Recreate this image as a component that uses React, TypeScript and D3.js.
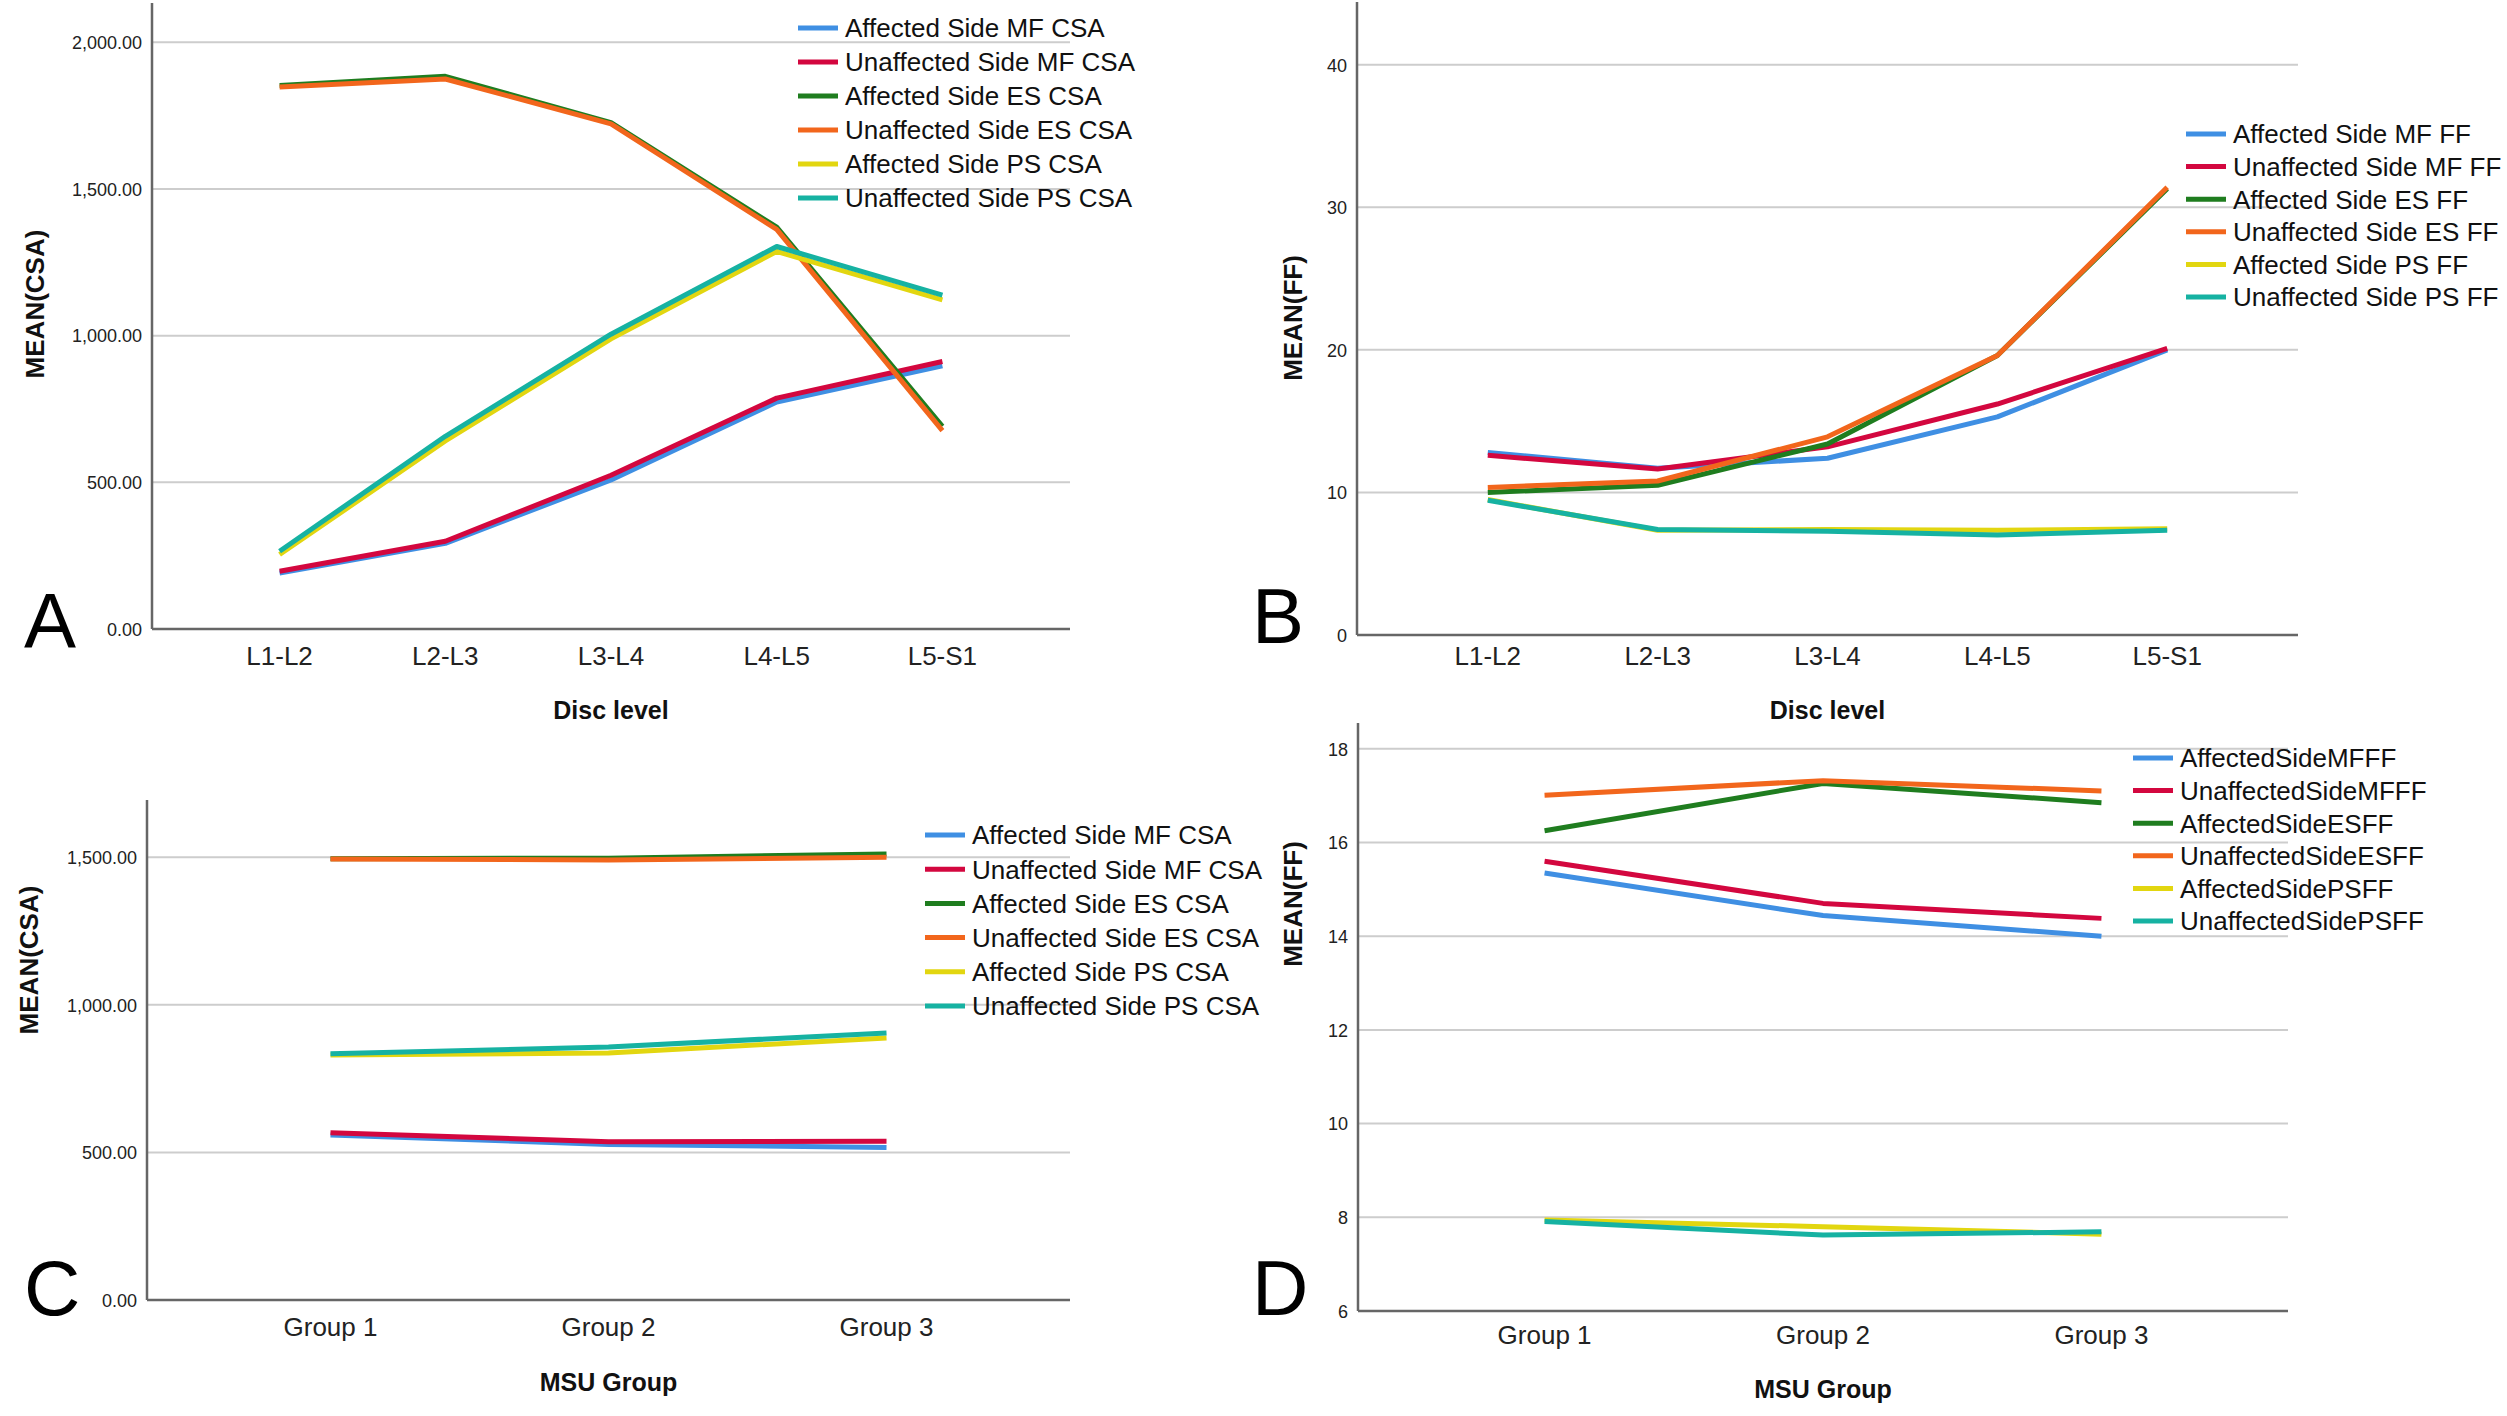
import { useEffect } from 'react';
import * as d3 from 'd3';

// categories
const discLevels = ['L1-L2', 'L2-L3', 'L3-L4', 'L4-L5', 'L5-S1'];
const msuGroups = ['Group 1', 'Group 2', 'Group 3'];

// series colours (SPSS default palette)
const colors = ['#3f8fe3', '#d3073f', '#1f7d1f', '#f2661c', '#e2d610', '#16b2a2'];

// A: CSA by disc level
const aAffMF = [191, 292, 508, 774, 897];
const aUnaffMF = [197, 299, 524, 787, 912];
const aAffES = [1853, 1884, 1726, 1370, 691];
const aUnaffES = [1848, 1875, 1722, 1362, 676];
const aAffPS = [254, 641, 989, 1287, 1122];
const aUnaffPS = [265, 657, 1005, 1304, 1138];

// B: FF by disc level
const bAffMF = [12.8, 11.7, 12.4, 15.3, 20.0];
const bUnaffMF = [12.6, 11.65, 13.2, 16.2, 20.1];
const bAffES = [10.0, 10.5, 13.4, 19.6, 31.3];
const bUnaffES = [10.35, 10.8, 13.9, 19.6, 31.4];
const bAffPS = [9.5, 7.35, 7.4, 7.35, 7.45];
const bUnaffPS = [9.45, 7.4, 7.28, 7.02, 7.35];

// C: CSA by MSU group
const cAffMF = [559, 527, 517];
const cUnaffMF = [567, 536, 538];
const cAffES = [1495, 1497, 1511];
const cUnaffES = [1494, 1491, 1500];
const cAffPS = [830, 837, 888];
const cUnaffPS = [834, 857, 905];

// D: FF by MSU group
const dAffMF = [15.35, 14.44, 14.0];
const dUnaffMF = [15.6, 14.7, 14.38];
const dAffES = [16.25, 17.26, 16.85];
const dUnaffES = [17.01, 17.32, 17.1];
const dAffPS = [7.94, 7.8, 7.64];
const dUnaffPS = [7.91, 7.62, 7.69];

// legend labels
const csaNames = ['Affected Side MF CSA', 'Unaffected Side MF CSA', 'Affected Side ES CSA', 'Unaffected Side ES CSA', 'Affected Side PS CSA', 'Unaffected Side PS CSA'];
const ffNames = ['Affected Side MF FF', 'Unaffected Side MF FF', 'Affected Side ES FF', 'Unaffected Side ES FF', 'Affected Side PS FF', 'Unaffected Side PS FF'];
const ffNamesD = ['AffectedSideMFFF', 'UnaffectedSideMFFF', 'AffectedSideESFF', 'UnaffectedSideESFF', 'AffectedSidePSFF', 'UnaffectedSidePSFF'];

// axis ticks
const csaTicksA = [0, 500, 1000, 1500, 2000];
const ffTicksB = [0, 10, 20, 30, 40];
const csaTicksC = [0, 500, 1000, 1500];
const ffTicksD = [6, 8, 10, 12, 14, 16, 18];

const FONT = "'Liberation Sans', Arial, Helvetica, sans-serif";

interface PanelCfg {
  letter: string;
  cats: string[];
  series: number[][];
  names: string[];
  ticks: number[];
  fmt: (n: number) => string;
  domain: [number, number];
  x0: number; x1: number; yTop: number; yBot: number;
  pad: number;
  yTitle: string; yTitleX: number; yTitleY: number;
  xTitle: string; xTitleY: number;
  catY: number;
  letterX: number; letterY: number;
  legX: number; legY: number; legStep: number;
}

const panels: PanelCfg[] = [
  {
    letter: 'A', cats: discLevels,
    series: [aAffMF, aUnaffMF, aAffES, aUnaffES, aAffPS, aUnaffPS],
    names: csaNames, ticks: csaTicksA, fmt: d3.format(',.2f'), domain: [0, 2134],
    x0: 152, x1: 1070, yTop: 3, yBot: 629, pad: 0.77,
    yTitle: 'MEAN(CSA)', yTitleX: 35, yTitleY: 304,
    xTitle: 'Disc level', xTitleY: 719, catY: 665,
    letterX: 24, letterY: 648, legX: 798, legY: 28, legStep: 34,
  },
  {
    letter: 'B', cats: discLevels,
    series: [bAffMF, bUnaffMF, bAffES, bUnaffES, bAffPS, bUnaffPS],
    names: ffNames, ticks: ffTicksB, fmt: d3.format('d'), domain: [0, 44.4],
    x0: 1357, x1: 2298, yTop: 2, yBot: 635, pad: 0.77,
    yTitle: 'MEAN(FF)', yTitleX: 1293, yTitleY: 318,
    xTitle: 'Disc level', xTitleY: 719, catY: 665,
    letterX: 1252, letterY: 643, legX: 2186, legY: 134, legStep: 32.6,
  },
  {
    letter: 'C', cats: msuGroups,
    series: [cAffMF, cUnaffMF, cAffES, cUnaffES, cAffPS, cUnaffPS],
    names: csaNames, ticks: csaTicksC, fmt: d3.format(',.2f'), domain: [0, 1694],
    x0: 147, x1: 1070, yTop: 800, yBot: 1300, pad: 0.66,
    yTitle: 'MEAN(CSA)', yTitleX: 29, yTitleY: 960,
    xTitle: 'MSU Group', xTitleY: 1391, catY: 1336,
    letterX: 24, letterY: 1315, legX: 925, legY: 835, legStep: 34.2,
  },
  {
    letter: 'D', cats: msuGroups,
    series: [dAffMF, dUnaffMF, dAffES, dUnaffES, dAffPS, dUnaffPS],
    names: ffNamesD, ticks: ffTicksD, fmt: d3.format('d'), domain: [6, 18.55],
    x0: 1358, x1: 2288, yTop: 723, yBot: 1311, pad: 0.67,
    yTitle: 'MEAN(FF)', yTitleX: 1293, yTitleY: 904,
    xTitle: 'MSU Group', xTitleY: 1398, catY: 1344,
    letterX: 1252, letterY: 1315, legX: 2133, legY: 758, legStep: 32.6,
  },
];

const Panel = ({ p }: { p: PanelCfg }) => {
  const x = d3.scalePoint<string>().domain(p.cats).range([p.x0, p.x1]).padding(p.pad);
  const y = d3.scaleLinear().domain(p.domain).range([p.yBot, p.yTop]);
  const line = d3.line<number>()
    .x((_, i) => x(p.cats[i]) ?? 0)
    .y((d) => y(d));
  const xMid = (p.x0 + p.x1) / 2;

  return (
    <g fontFamily={FONT}>
      {/* grid */}
      {p.ticks.slice(1).map((t) => (
        <line key={t} x1={p.x0} x2={p.x1} y1={y(t)} y2={y(t)} stroke="#cdcdcd" strokeWidth={2} />
      ))}
      {/* tick labels */}
      {p.ticks.map((t) => (
        <text key={'t' + t} x={p.x0 - 10} y={y(t)} dy="0.38em" textAnchor="end" fontSize={18} fill="#222">
          {p.fmt(t)}
        </text>
      ))}
      {/* axes */}
      <line x1={p.x0} x2={p.x0} y1={p.yTop} y2={p.yBot} stroke="#666" strokeWidth={2.5} />
      <line x1={p.x0} x2={p.x1} y1={p.yBot} y2={p.yBot} stroke="#666" strokeWidth={2.5} />
      {p.cats.map((c) => (
        <text key={c} x={x(c)} y={p.catY} textAnchor="middle" fontSize={26} fill="#222">{c}</text>
      ))}
      {/* series */}
      {p.series.map((s, i) => (
        <path key={i} d={line(s) ?? ''} fill="none" stroke={colors[i]} strokeWidth={5} strokeLinejoin="round" />
      ))}
      {/* titles */}
      <text x={xMid} y={p.xTitleY} textAnchor="middle" fontSize={25} fontWeight="bold" fill="#111">{p.xTitle}</text>
      <text transform={`translate(${p.yTitleX},${p.yTitleY}) rotate(-90)`} dy="0.35em" textAnchor="middle"
        fontSize={26} fontWeight="bold" fill="#111">{p.yTitle}</text>
      <text x={p.letterX} y={p.letterY} fontSize={78} fill="#000">{p.letter}</text>
      {/* legend */}
      {p.names.map((n, i) => {
        const ly = p.legY + i * p.legStep;
        return (
          <g key={n}>
            <line x1={p.legX} x2={p.legX + 40} y1={ly} y2={ly} stroke={colors[i]} strokeWidth={5} />
            <text x={p.legX + 47} y={ly} dy="0.36em" fontSize={26} fill="#111">{n}</text>
          </g>
        );
      })}
    </g>
  );
};

const App = () => {
  useEffect(() => {
    document.body.style.margin = '0';
    document.body.style.overflow = 'hidden';
  }, []);

  return (
    <svg width={2507} height={1416} style={{ display: 'block', background: '#fff' }}>
      <rect width={2507} height={1416} fill="#fff" />
      {panels.map((p) => <Panel key={p.letter} p={p} />)}
    </svg>
  );
};

export default App;
